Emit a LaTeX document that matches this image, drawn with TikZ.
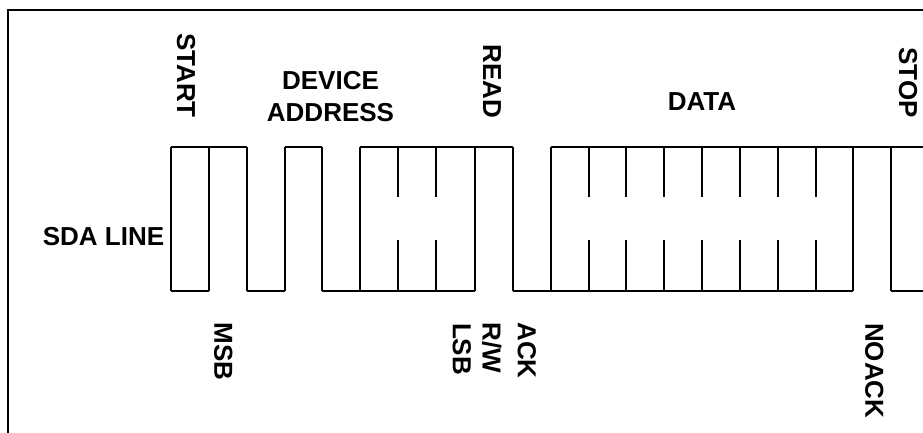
\documentclass[tikz,border=0pt]{standalone}
\usepackage{fontspec}
\setmainfont{Liberation Sans}
\begin{document}
\begin{tikzpicture}[x=0.75pt,y=-0.75pt,
  lbl/.style={font=\bfseries\fontsize{19.5}{23.8}\selectfont, inner sep=0pt, align=center},
  vlbl/.style={lbl, rotate=-90},
  frame/.style={line width=2pt},
  wave/.style={line width=1.1pt}]
\useasboundingbox (0,0) rectangle (923,432);
\clip (0,0) rectangle (923,432);
% outer frame (left and top edges visible)
\draw[frame] (8,445) -- (8,10) -- (935,10);
% waveform: top and bottom rails
\foreach \a/\b in {171/247, 285/322, 360/513, 551/935}
  \draw[wave] (\a,147) -- (\b,147);
\foreach \a/\b in {171/209, 247/285, 322/475, 513/853, 891/935}
  \draw[wave] (\a,291) -- (\b,291);
% full transitions
\foreach \x in {171,209,247,285,322,360,475,513,551,853,891}
  \draw[wave] (\x,147) -- (\x,291);
% bit boundaries (partial)
\foreach \x in {398,436,589,626,664,702,740,778,816} {
  \draw[wave] (\x,147) -- (\x,197);
  \draw[wave] (\x,240) -- (\x,291);
}
% labels
\node[lbl, anchor=base] (sda) at (103.5,245) {SDA LINE};
\node[vlbl] (start) at (186,75.5) {START};
\node[lbl] (dev) at (330.5,96.7) {DEVICE\\ADDRESS};
\node[vlbl] (read) at (492,81.7) {READ};
\node[lbl, anchor=base] (data) at (702,110) {DATA};
\node[vlbl] (stop) at (908,82.5) {STOP};
\node[vlbl] (msb) at (223.3,351.7) {MSB};
\node[vlbl] (lsb) at (461.7,349) {LSB};
\node[vlbl] (rw) at (491.7,347.5) {R/W};
\node[vlbl] (ack) at (526.7,350.5) {ACK};
\node[vlbl] (noack) at (874.3,370.8) {NOACK};
\end{tikzpicture}
\end{document}
